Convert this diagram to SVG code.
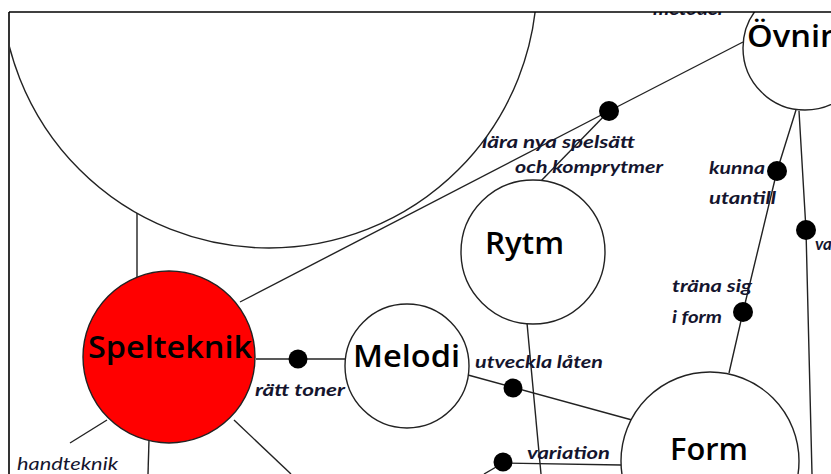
<svg xmlns="http://www.w3.org/2000/svg" width="831" height="474" viewBox="0 0 831 474">
<style>
.c{fill:#fff;stroke:#222;stroke-width:1.4}
.ln{stroke:#222;stroke-width:1.4;fill:none}
.dot{fill:#000}
.n{font-family:"Open Sans",Lato,"Liberation Sans",sans-serif;fill:#000;font-size:30px;font-weight:600}
.e{font-family:Lato,"Open Sans","Liberation Sans",sans-serif;fill:#15152e;font-size:17px;font-style:italic;font-weight:bold}
.h{font-family:Lato,"Open Sans","Liberation Sans",sans-serif;fill:#15152e;font-size:17px;font-style:italic}
</style>
<defs>
<clipPath id="frame"><rect x="10" y="12" width="821" height="462"/></clipPath>
</defs>
<rect x="0" y="0" width="831" height="474" fill="#fff"/>
<g clip-path="url(#frame)">
<g id="connectors">
<line class="ln" x1="137" y1="212" x2="137" y2="281"/>
<line class="ln" x1="240" y1="302" x2="609" y2="111"/>
<line class="ln" x1="609" y1="111" x2="743" y2="42"/>
<line class="ln" x1="609" y1="111" x2="540" y2="182"/>
<line class="ln" x1="256" y1="359" x2="346" y2="359"/>
<line class="ln" x1="527" y1="323" x2="541" y2="474"/>
<line class="ln" x1="468" y1="375" x2="632" y2="420"/>
<polyline class="ln" points="796,110 777,171 743,312 729,373"/>
<polyline class="ln" points="799,111 806,230 812,474"/>
<line class="ln" x1="503" y1="463" x2="621" y2="465"/>
<line class="ln" x1="503" y1="463" x2="484" y2="474"/>
<line class="ln" x1="107" y1="420" x2="70" y2="443"/>
<line class="ln" x1="149" y1="440" x2="148" y2="474"/>
<line class="ln" x1="234" y1="420" x2="291" y2="474"/>
<circle class="dot" cx="609" cy="111" r="10"/>
<circle class="dot" cx="298" cy="359" r="9.5"/>
<circle class="dot" cx="513" cy="388" r="9.5"/>
<circle class="dot" cx="503" cy="462" r="9.5"/>
<circle class="dot" cx="777" cy="171" r="10"/>
<circle class="dot" cx="743" cy="312" r="10"/>
<circle class="dot" cx="806" cy="230" r="10"/>
<text class="e" x="482" y="148" textLength="153" lengthAdjust="spacingAndGlyphs">lära nya spelsätt</text>
<text class="e" x="515" y="173" textLength="148" lengthAdjust="spacingAndGlyphs">och komprytmer</text>
<text class="e" x="255" y="396" textLength="90" lengthAdjust="spacingAndGlyphs">rätt toner</text>
<text class="e" x="475" y="368" textLength="128" lengthAdjust="spacingAndGlyphs">utveckla låten</text>
<text class="e" x="527" y="459" textLength="83" lengthAdjust="spacingAndGlyphs">variation</text>
<text class="e" x="709" y="174" textLength="56" lengthAdjust="spacingAndGlyphs">kunna</text>
<text class="e" x="709" y="204" textLength="67" lengthAdjust="spacingAndGlyphs">utantill</text>
<text class="e" x="672" y="292" textLength="80" lengthAdjust="spacingAndGlyphs">träna sig</text>
<text class="e" x="672" y="323" textLength="50" lengthAdjust="spacingAndGlyphs">i form</text>
<text class="e" x="815" y="250">va</text>
<text class="h" x="17" y="470" textLength="101" lengthAdjust="spacingAndGlyphs">handteknik</text>
<text class="e" x="653" y="15" textLength="72" lengthAdjust="spacingAndGlyphs">metoder</text>
</g>
<g id="big"><circle class="c" cx="269" cy="-20" r="268"/></g>
<g id="spelteknik"><circle cx="169" cy="357" r="86" fill="#ff0000" stroke="#222" stroke-width="1.4"/><text class="n" x="88" y="358" textLength="164" lengthAdjust="spacingAndGlyphs">Spelteknik</text></g>
<g id="melodi"><circle class="c" cx="407" cy="366" r="62"/><text class="n" x="353" y="367" textLength="107" lengthAdjust="spacingAndGlyphs">Melodi</text></g>
<g id="rytm"><circle class="c" cx="533" cy="252" r="72"/><text class="n" x="485" y="254" textLength="79" lengthAdjust="spacingAndGlyphs">Rytm</text></g>
<g id="form"><circle class="c" cx="710" cy="461" r="89"/><text class="n" x="670" y="460" textLength="78" lengthAdjust="spacingAndGlyphs">Form</text></g>
<g id="ovning"><circle class="c" cx="805" cy="48" r="62"/><text class="n" x="747" y="47" textLength="112" lengthAdjust="spacingAndGlyphs">Övning</text></g>
</g>
<g id="frame-border">
<line x1="9" y1="12" x2="831" y2="12" stroke="#000" stroke-width="1.6"/>
<line x1="9" y1="12" x2="9" y2="474" stroke="#000" stroke-width="1.6"/>
</g>
</svg>
